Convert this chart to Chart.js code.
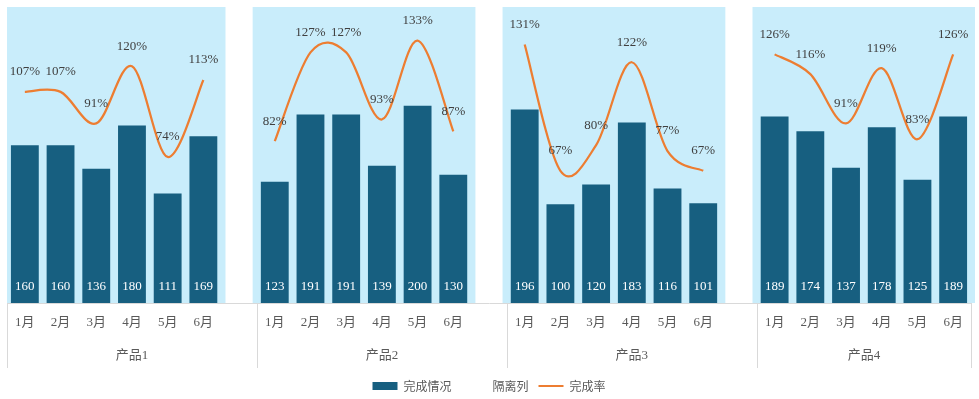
<!DOCTYPE html>
<html>
<head>
<meta charset="utf-8">
<script src="https://cdn.jsdelivr.net/npm/chart.js@4/dist/chart.umd.min.js"></script>
<style>
html,body{margin:0;padding:0;background:#fff;}
#wrap{width:979px;height:399px;position:relative;}
</style>
</head>
<body>
<div id="wrap"><canvas id="c" width="979" height="399"></canvas></div>
<script>
// ---- data ----
const products = ['产品1', '产品2', '产品3', '产品4'];
const months = ['1月', '2月', '3月', '4月', '5月', '6月'];
const done1 = [160, 160, 136, 180, 111, 169];
const done2 = [123, 191, 191, 139, 200, 130];
const done3 = [196, 100, 120, 183, 116, 101];
const done4 = [189, 174, 137, 178, 125, 189];
const rate1 = [107, 107, 91, 120, 74, 113];
const rate2 = [82, 127, 127, 93, 133, 87];
const rate3 = [131, 67, 80, 122, 77, 67];
const rate4 = [126, 116, 91, 119, 83, 126];
const separatorValue = 300;
const doneMax = 300;
const rateMax = 150;

const doneGroups = [done1, done2, done3, done4];
const rateGroups = [rate1, rate2, rate3, rate4];

// flat arrays with a blank separator category between products
const labels = [], doneData = [], rateData = [], sepData = [];
doneGroups.forEach((g, gi) => {
  g.forEach((v, i) => {
    labels.push(months[i]);
    doneData.push(v);
    rateData.push(rateGroups[gi][i]);
    sepData.push(null);
  });
  if (gi < doneGroups.length - 1) {
    labels.push('');
    doneData.push(null);
    rateData.push(null);
    sepData.push(separatorValue);
  }
});

const SERIF = '"Liberation Serif", "Noto Sans CJK SC", serif';
const CJK = '"Noto Sans CJK SC", "Liberation Serif", sans-serif';

// plot background
const bgPlugin = {
  id: 'bg',
  beforeDraw(chart) {
    const a = chart.chartArea, ctx = chart.ctx;
    ctx.save();
    ctx.fillStyle = '#C9EDFB';
    ctx.fillRect(a.left, a.top, a.right - a.left + 4, a.bottom - a.top);
    ctx.restore();
  }
};

// Excel-like (Catmull-Rom) smoothing of the line
const smoothPlugin = {
  id: 'smooth',
  beforeDatasetDraw(chart, args) {
    const meta = chart.getDatasetMeta(args.index);
    if (meta.type !== 'line') return;
    const line = meta.dataset;
    if (line && line.updateControlPoints) line.updateControlPoints(chart.chartArea, 'x');
    const pts = meta.data;
    const ok = i => i >= 0 && i < pts.length && meta._parsed[i] && meta._parsed[i].y != null && !isNaN(meta._parsed[i].y);
    for (let i = 0; i < pts.length; i++) {
      if (!ok(i)) continue;
      const p = pts[i];
      const prev = ok(i - 1) ? pts[i - 1] : p;
      const next = ok(i + 1) ? pts[i + 1] : p;
      const dx = (next.x - prev.x) / 6, dy = (next.y - prev.y) / 6;
      p.cp1x = p.x - dx; p.cp1y = p.y - dy;
      p.cp2x = p.x + dx; p.cp2y = p.y + dy;
    }
    if (line) { line._pointsUpdated = true; line._path = undefined; }
  }
};

// data labels
const labelPlugin = {
  id: 'vals',
  afterDatasetsDraw(chart) {
    const ctx = chart.ctx, a = chart.chartArea;
    ctx.save();
    ctx.textAlign = 'center';
    ctx.textBaseline = 'middle';
    const barMeta = chart.getDatasetMeta(0);
    ctx.font = '13px ' + SERIF;
    ctx.fillStyle = '#FFFFFF';
    barMeta.data.forEach((el, i) => {
      const v = chart.data.datasets[0].data[i];
      if (v == null) return;
      ctx.fillText(String(v), el.x, a.bottom - 16);
    });
    const lineMeta = chart.getDatasetMeta(2);
    ctx.fillStyle = '#404040';
    lineMeta.data.forEach((el, i) => {
      const v = chart.data.datasets[2].data[i];
      if (v == null) return;
      ctx.fillText(v + '%', el.x, el.y - 20);
    });
    ctx.restore();
  }
};

// second-level category axis: product names and dividers
const groupAxisPlugin = {
  id: 'groups',
  afterDraw(chart) {
    const ctx = chart.ctx, xs = chart.scales.x, a = chart.chartArea;
    const n = labels.length;
    const bounds = [];
    for (let i = 0; i < n; i++) if (labels[i] === '') bounds.push(i);
    const edges = [-0.5];
    bounds.forEach(b => edges.push(b + 0.5));
    edges.push(n - 0.5);
    ctx.save();
    ctx.strokeStyle = '#D9D9D9';
    ctx.lineWidth = 1;
    edges.forEach(e => {
      const x = Math.round(xs.getPixelForValue(e)) + 0.5;
      ctx.beginPath();
      ctx.moveTo(x, a.bottom);
      ctx.lineTo(x, a.bottom + 65);
      ctx.stroke();
    });
    ctx.fillStyle = '#595959';
    ctx.font = '13px ' + SERIF;
    ctx.textAlign = 'center';
    ctx.textBaseline = 'middle';
    products.forEach((p, gi) => {
      const x0 = xs.getPixelForValue(edges[gi]);
      const x1 = xs.getPixelForValue(edges[gi + 1]);
      ctx.fillText(p, (x0 + x1) / 2, a.bottom + 53);
    });
    ctx.restore();
  }
};

new Chart(document.getElementById('c'), {
  data: {
    labels: labels,
    datasets: [
      {
        type: 'bar', label: '完成情况', data: doneData,
        backgroundColor: '#175F80', borderWidth: 0,
        barPercentage: 0.78, categoryPercentage: 1.0, grouped: false,
        yAxisID: 'y', order: 2
      },
      {
        type: 'bar', label: '隔离列', data: sepData,
        backgroundColor: '#FFFFFF', borderWidth: 0,
        barPercentage: 0.76, categoryPercentage: 1.0, grouped: false,
        yAxisID: 'y', order: 3
      },
      {
        type: 'line', label: '完成率', data: rateData,
        borderColor: '#ED7D31', backgroundColor: '#ED7D31',
        borderWidth: 2.25, pointRadius: 0, pointHoverRadius: 0,
        tension: 0.4, spanGaps: false, fill: false,
        yAxisID: 'y1', order: 1
      }
    ]
  },
  options: {
    responsive: false,
    animation: false,
    events: [],
    layout: { padding: { left: 7, right: 8, top: 7, bottom: -3 } },
    scales: {
      x: {
        type: 'category',
        offset: true,
        grid: { display: false, drawTicks: false, offset: true },
        border: { display: true, color: '#D9D9D9', width: 1 },
        ticks: {
          autoSkip: false, maxRotation: 0, minRotation: 0, padding: 12,
          color: '#595959', font: { size: 13, family: SERIF }
        },
        afterFit(s) { s.height = 67; }
      },
      y: { display: false, min: 0, max: doneMax },
      y1: { display: false, min: 0, max: rateMax, position: 'right' }
    },
    plugins: {
      tooltip: { enabled: false },
      legend: {
        display: true,
        position: 'bottom',
        labels: {
          usePointStyle: true,
          boxWidth: 24, boxHeight: 8, pointStyleWidth: 25,
          padding: 10,
          color: '#595959',
          font: { size: 12, family: CJK },
          generateLabels(chart) {
            const items = Chart.defaults.plugins.legend.labels.generateLabels(chart);
            items.forEach(it => {
              if (it.datasetIndex === 0) { it.pointStyle = 'rect'; it.fillStyle = '#175F80'; it.strokeStyle = '#175F80'; it.lineWidth = 0; }
              if (it.datasetIndex === 1) { it.pointStyle = 'rect'; it.fillStyle = '#FFFFFF'; it.strokeStyle = '#FFFFFF'; it.lineWidth = 0; }
              if (it.datasetIndex === 2) { it.pointStyle = 'line'; it.strokeStyle = '#ED7D31'; it.lineWidth = 2; }
            });
            items.sort((a, b) => a.datasetIndex - b.datasetIndex);
            return items;
          }
        }
      }
    }
  },
  plugins: [bgPlugin, smoothPlugin, labelPlugin, groupAxisPlugin]
});
</script>
</body>
</html>
